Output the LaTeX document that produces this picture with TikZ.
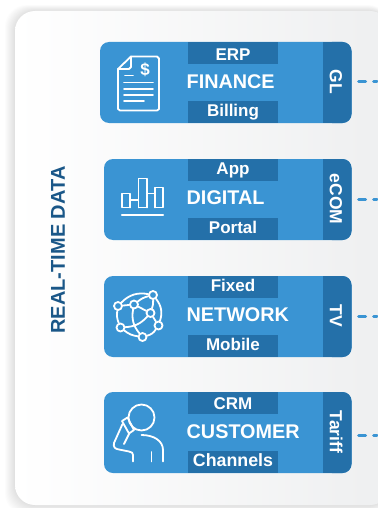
\documentclass[tikz,border=0pt]{standalone}
\usepackage{fontspec}
\setmainfont{Liberation Sans}
\usetikzlibrary{positioning}

\definecolor{cardblue}{HTML}{3A94D3}
\definecolor{tabblue}{HTML}{2470A9}
\definecolor{titleblue}{HTML}{1A5788}
\definecolor{panelright}{HTML}{EEEFF0}

\tikzset{
	card/.style={fill=cardblue, rounded corners=9, minimum height=81, inner sep=0},
	tabbox/.style={fill=tabblue, minimum width=90, minimum height=22, inner sep=0, text height=12.5, text depth=3, text=white, font=\fontsize{17}{17}\selectfont\bfseries},
	titletext/.style={text=white, anchor=west, inner sep=0, font=\fontsize{19.8}{19.8}\selectfont\bfseries},
	sidetext/.style={text=white, rotate=-90, inner sep=0, font=\fontsize{17.5}{17.5}\selectfont\bfseries},
	sidetab/.style={fill=tabblue, rounded corners=9},
	icon/.style={draw=white, line width=1.8, line cap=round, line join=round},
	hub/.style={circle, draw=white, fill=cardblue, line width=1.8, minimum size=8, inner sep=0},
	outlink/.style={draw=cardblue, line width=3, line cap=round, dash pattern=on 7 off 8, shorten <=7},
}

\begin{document}
\begin{tikzpicture}[x=1pt, y=-1pt]
	\useasboundingbox (0, 0) rectangle (377, 508);

	% panel with soft shadow
	\foreach \i in {1,...,10} {
		\fill[black, opacity=0.012, rounded corners=22] ({15-\i}, {11-0.6*\i}) rectangle (390, {505+\i});
	}
	\shade[left color=white, right color=panelright, rounded corners=20] (15, 11) rectangle (390, 505);
	\node[rotate=90, text=titleblue, inner sep=0, font=\fontsize{20}{20}\selectfont\bfseries] (title) at (58, 250) {REAL-TIME DATA};

	% finance
	\node[card, minimum width=251.5] (finance) at (225.75, 82.5) {};
	\fill[sidetab] (323, 42) rectangle (351.5, 123);
	\fill[tabblue] (323, 42) rectangle (335, 123);
	\node[sidetext] (gl) at (336, 82) {GL};
	\node[tabbox, text height=15.4, text depth=0] (erp) at (233, 53) {ERP};
	\node[tabbox] (billing) at (233, 112) {Billing};
	\node[titletext] (financetext) at (186.5, 82) {FINANCE};
	\coordinate (financeout) at (377, 82);
	\draw[outlink] (finance.east |- financeout) -- (financeout);
	\draw[icon] (131, 56.5) -- (157, 56.5) -- (159, 58.5) -- (159, 109) -- (157, 110.5) -- (120, 110.5) -- (118, 109) -- (118, 69) -- cycle;
	\draw[icon] (118, 69) -- (129, 69) -- (131, 67) -- (131, 56.5);
	\draw[icon] (125, 75.5) -- (133, 75.5);
	\draw[icon] (124, 82.5) -- (153, 82.5);
	\draw[icon] (124, 89) -- (153, 89);
	\draw[icon] (124, 95) -- (153, 95);
	\draw[icon] (124, 101) -- (144, 101);
	\node[text=white, inner sep=0, font=\fontsize{17}{17}\selectfont\bfseries] (dollar) at (145, 70) {\$};

	% digital
	\node[card, minimum width=247.5] (digital) at (227.75, 199.5) {};
	\fill[sidetab] (323, 159) rectangle (351.5, 240);
	\fill[tabblue] (323, 159) rectangle (335, 240);
	\node[sidetext] (ecom) at (336, 199) {eCOM};
	\node[tabbox] (app) at (233, 170) {App};
	\node[tabbox] (portal) at (233, 229) {Portal};
	\node[titletext] (digitaltext) at (186.5, 198) {DIGITAL};
	\coordinate (digitalout) at (377, 199);
	\draw[outlink] (digital.east |- digitalout) -- (digitalout);
	\draw[icon] (122, 207.5) -- (122, 193.5) -- (130, 193.5) -- (130, 207.5) -- cycle;
	\draw[icon] (130, 207.5) -- (130, 200) -- (138.5, 200) -- (138.5, 207.5);
	\draw[icon] (138.5, 207.5) -- (138.5, 178.5) -- (147, 178.5) -- (147, 207.5) -- cycle;
	\draw[icon] (147, 207.5) -- (147, 193.5) -- (155, 193.5) -- (155, 207.5);
	\draw[icon] (155, 207.5) -- (155, 187.5) -- (163, 187.5) -- (163, 207.5) -- cycle;
	\draw[icon, line width=2.2] (122, 215) -- (163, 215);

	% network
	\node[card, minimum width=247.5] (network) at (227.75, 316.5) {};
	\fill[sidetab] (323, 276) rectangle (351.5, 357);
	\fill[tabblue] (323, 276) rectangle (335, 357);
	\node[sidetext] (tv) at (336, 316) {TV};
	\node[tabbox] (fixed) at (233, 287) {Fixed};
	\node[tabbox] (mobile) at (233, 346) {Mobile};
	\node[titletext] (networktext) at (186.5, 315) {NETWORK};
	\coordinate (networkout) at (377, 316);
	\draw[outlink] (network.east |- networkout) -- (networkout);
	\node[hub] (huba) at (153, 295) {};
	\node[hub] (hubb) at (118, 306) {};
	\node[hub] (hubc) at (134, 304.5) {};
	\node[hub] (hubd) at (150.5, 313) {};
	\node[hub] (hube) at (158.5, 325.5) {};
	\node[hub] (hubf) at (120.5, 327.5) {};
	\node[hub] (hubg) at (142.5, 337) {};
	\draw[icon] (huba) to[bend left=28] (hube);
	\draw[icon] (hube) to[bend left=20] (hubg);
	\draw[icon] (hubg) to[bend left=15] (hubf);
	\draw[icon] (hubf) to[bend left=15] (hubb);
	\draw[icon] (hubb) to[bend left=28] (huba);
	\draw[icon] (hubb) -- (hubc) -- (hubd) -- (hube);
	\draw[icon] (hubc) to[bend right=25] (hubg);
	\draw[icon] (hubf) to[bend right=22] (hubd);
	\draw[icon] (huba) to[bend left=10] (hubd);
	\draw[icon] (hubc) to[bend left=12] (huba);

	% customer
	\node[card, minimum width=247.5] (customer) at (227.75, 432.5) {};
	\fill[sidetab] (323, 392) rectangle (351.5, 473);
	\fill[tabblue] (323, 392) rectangle (335, 473);
	\node[sidetext] (tariff) at (336, 432) {Tariff};
	\node[tabbox, text depth=0.5] (crm) at (233, 403) {CRM};
	\node[tabbox, font=\fontsize{17.8}{17.8}\selectfont\bfseries] (channels) at (233, 462) {Channels};
	\node[titletext] (customertext) at (186.5, 431.5) {CUSTOMER};
	\coordinate (customerout) at (377, 435.5);
	\draw[outlink] (customer.east |- customerout) -- (customerout);
	\draw[icon] (141.5, 417.5) circle (13);
	\draw[icon] (122, 421) -- (127.5, 417.5) -- (134, 430) -- (129, 433.5) -- cycle;
	\draw[icon] (122.5, 424) -- (114, 443) .. controls (113, 447) and (115, 449) .. (119, 449.5) -- (129, 451.5) .. controls (132, 452) and (133, 453) .. (133, 455) -- (133, 461.5);
	\draw[icon] (129, 434) -- (124, 444);
	\draw[icon] (141.5, 435) .. controls (154, 435) and (163, 441) .. (163, 450) -- (163, 461.5);
	\draw[icon] (151.5, 452) -- (151.5, 461.5);
\end{tikzpicture}
\end{document}
